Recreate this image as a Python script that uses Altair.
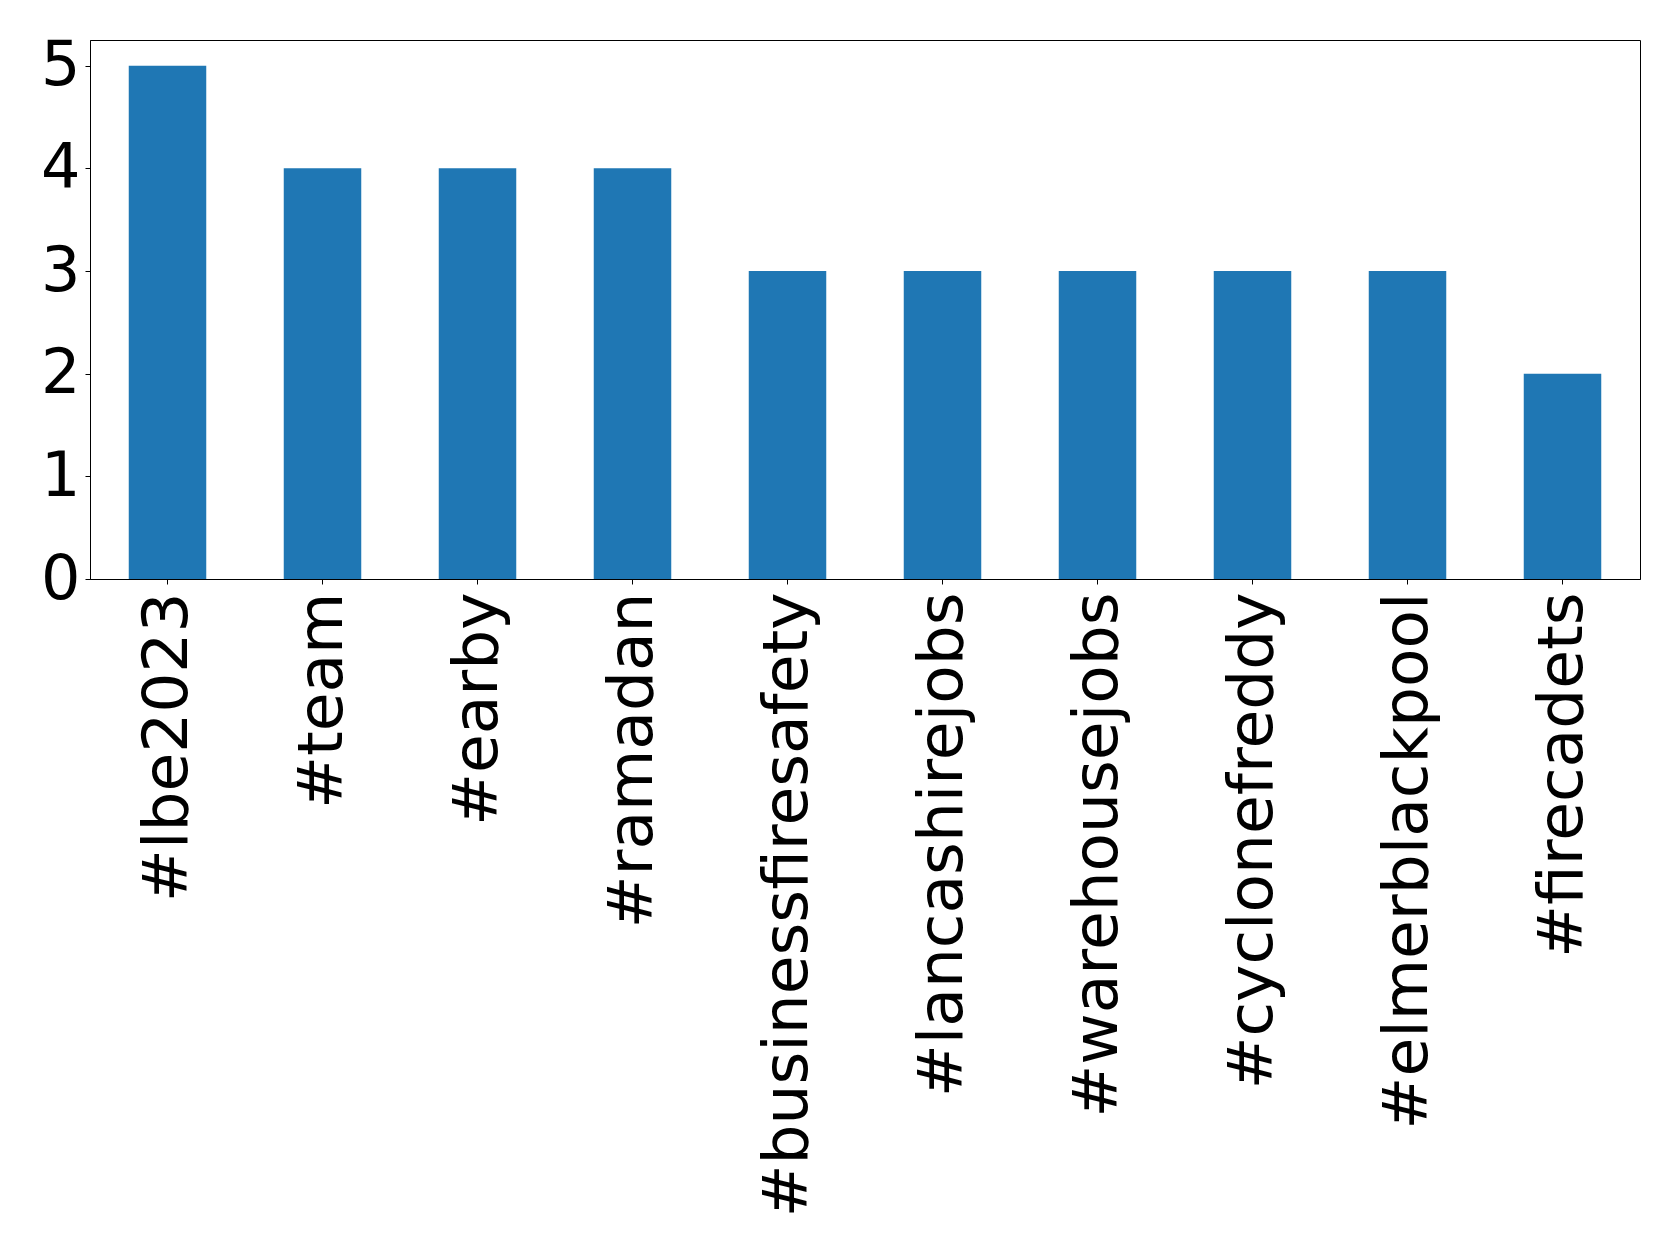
import altair as alt
import pandas as pd

hashtags = ["#lbe2023", "#team", "#earby", "#ramadan", "#businessfiresafety",
            "#lancashirejobs", "#warehousejobs", "#cyclonefreddy", "#elmerblackpool", "#firecadets"]
counts = [5, 4, 4, 4, 3, 3, 3, 3, 3, 2]

df = pd.DataFrame({"tag": hashtags, "count": counts})

chart = alt.Chart(df).mark_bar(color="#1f77b4").encode(
    x=alt.X("tag:N", sort=hashtags, title=None,
            scale=alt.Scale(paddingInner=0.5, paddingOuter=0.25),
            axis=alt.Axis(labelAngle=270, labelFontSize=63, labelFont="DejaVu Sans",
                          labelColor="black", tickColor="black", domainColor="black",
                          tickSize=5, labelPadding=8, labelLimit=0, domainWidth=1)),
    y=alt.Y("count:Q", title=None,
            scale=alt.Scale(domain=[0, 5.25], nice=False, zero=True),
            axis=alt.Axis(values=[0, 1, 2, 3, 4, 5], grid=False, labelFontSize=62,
                          labelFont="DejaVu Sans", labelColor="black", tickColor="black",
                          domainColor="black", tickSize=5, labelPadding=5, domainWidth=1)),
).properties(
    width=1550, height=539,
    autosize=alt.AutoSizeParams(type="none"),
    padding={"left": 82, "top": 32, "right": 20, "bottom": 640},
).configure_view(stroke="black", strokeWidth=1)

chart.save("out.html", embed_options={"renderer": "svg", "actions": False})
